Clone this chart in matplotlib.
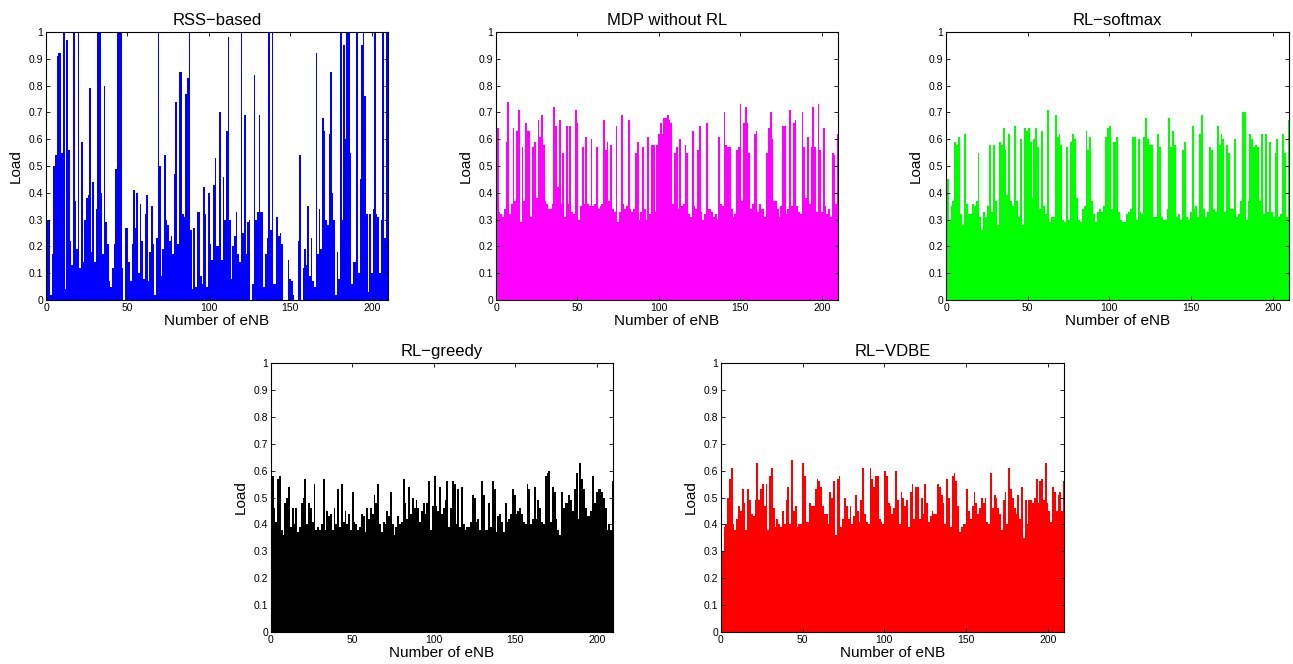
import numpy as np
import matplotlib
matplotlib.use("Agg")
import matplotlib.pyplot as plt
from matplotlib.ticker import FixedLocator, FixedFormatter

plt.rcParams["font.family"] = ["Liberation Sans", "DejaVu Sans"]

# Load per eNB (left to right)
rss_based = [
    0.30, 0.30, 0.02, 0.17, 0.50, 0.54, 0.91, 0.92, 0.92, 0.55,
    1.00, 0.04, 0.97, 0.56, 0.22, 0.13, 1.00, 0.37, 0.19, 1.00,
    0.12, 0.59, 0.14, 0.30, 0.38, 0.39, 0.79, 0.18, 0.44, 0.14,
    0.34, 1.00, 1.00, 0.40, 0.17, 0.80, 0.29, 0.21, 0.07, 0.05,
    0.12, 0.21, 0.49, 1.00, 1.00, 1.00, 0.12, 0.00, 0.27, 0.27,
    0.14, 0.07, 0.21, 0.41, 0.27, 0.40, 0.10, 0.36, 0.22, 0.08,
    0.32, 0.39, 0.07, 0.18, 0.35, 0.21, 0.02, 0.23, 1.00, 0.50,
    0.09, 0.19, 0.54, 0.30, 0.28, 0.22, 0.24, 0.17, 0.47, 0.74,
    0.21, 0.85, 0.85, 0.32, 0.31, 0.77, 0.83, 1.00, 0.26, 0.04,
    0.27, 0.05, 0.33, 0.33, 0.09, 0.06, 0.42, 0.32, 0.05, 0.40,
    0.21, 0.15, 0.43, 0.53, 0.20, 0.20, 0.70, 0.15, 0.46, 0.30,
    0.63, 0.98, 0.30, 0.08, 0.20, 0.24, 0.33, 0.17, 0.14, 1.00,
    0.25, 0.69, 0.17, 0.29, 0.30, 0.00, 0.06, 0.84, 0.30, 0.33,
    0.69, 0.33, 0.33, 0.05, 0.17, 0.23, 1.00, 0.26, 1.00, 0.06,
    0.06, 0.31, 0.24, 0.25, 0.21, 0.00, 0.00, 0.00, 0.15, 0.08,
    0.07, 0.02, 0.00, 0.00, 0.22, 0.54, 0.00, 0.12, 0.19, 0.13,
    0.35, 0.09, 0.23, 0.07, 0.05, 0.92, 0.17, 0.34, 0.19, 0.68,
    0.63, 0.30, 0.28, 0.62, 0.85, 0.40, 0.30, 0.02, 0.18, 0.08,
    1.00, 0.30, 0.95, 0.60, 1.00, 1.00, 0.55, 0.06, 0.14, 0.14,
    1.00, 0.10, 0.45, 0.95, 1.00, 0.76, 0.32, 0.03, 0.32, 0.10,
    0.34, 1.00, 0.32, 0.31, 0.10, 0.30, 1.00, 0.23, 1.00, 1.00,
]

mdp_without_rl = [
    0.64, 0.33, 0.32, 0.31, 0.34, 0.59, 0.74, 0.32, 0.36, 0.64,
    0.37, 0.63, 0.71, 0.29, 0.57, 0.37, 0.66, 0.63, 0.63, 0.31,
    0.57, 0.59, 0.38, 0.67, 0.61, 0.69, 0.58, 0.37, 0.36, 0.34,
    0.34, 0.36, 0.72, 0.65, 0.42, 0.67, 0.36, 0.55, 0.31, 0.65,
    0.36, 0.65, 0.33, 0.32, 0.71, 0.66, 0.30, 0.35, 0.57, 0.36,
    0.61, 0.36, 0.35, 0.60, 0.35, 0.36, 0.57, 0.34, 0.35, 0.36,
    0.67, 0.56, 0.59, 0.37, 0.58, 0.34, 0.33, 0.65, 0.29, 0.33,
    0.69, 0.36, 0.34, 0.35, 0.67, 0.34, 0.33, 0.34, 0.55, 0.59,
    0.30, 0.33, 0.57, 0.34, 0.30, 0.61, 0.32, 0.58, 0.58, 0.33,
    0.58, 0.62, 0.66, 0.62, 0.68, 0.68, 0.69, 0.67, 0.66, 0.36,
    0.55, 0.57, 0.34, 0.60, 0.35, 0.36, 0.58, 0.55, 0.32, 0.31,
    0.63, 0.35, 0.34, 0.56, 0.65, 0.33, 0.30, 0.32, 0.66, 0.34,
    0.34, 0.33, 0.31, 0.32, 0.30, 0.61, 0.36, 0.35, 0.70, 0.58,
    0.57, 0.57, 0.34, 0.31, 0.32, 0.56, 0.57, 0.73, 0.37, 0.66,
    0.72, 0.66, 0.55, 0.34, 0.36, 0.62, 0.63, 0.33, 0.36, 0.34,
    0.34, 0.31, 0.55, 0.64, 0.70, 0.60, 0.37, 0.37, 0.34, 0.31,
    0.35, 0.65, 0.65, 0.32, 0.34, 0.71, 0.35, 0.66, 0.67, 0.35,
    0.33, 0.32, 0.70, 0.57, 0.38, 0.61, 0.36, 0.57, 0.72, 0.57,
    0.33, 0.73, 0.56, 0.33, 0.64, 0.35, 0.32, 0.34, 0.31, 0.55,
    0.54, 0.36, 0.62,
]

rl_softmax = [
    0.45, 0.30, 0.35, 0.37, 0.59, 0.58, 0.61, 0.32, 0.28, 0.62,
    0.36, 0.32, 0.32, 0.36, 0.35, 0.37, 0.55, 0.31, 0.26, 0.33,
    0.31, 0.35, 0.58, 0.33, 0.58, 0.37, 0.28, 0.59, 0.58, 0.64,
    0.56, 0.39, 0.62, 0.37, 0.35, 0.65, 0.37, 0.31, 0.60, 0.28,
    0.64, 0.63, 0.64, 0.59, 0.38, 0.60, 0.64, 0.57, 0.34, 0.63,
    0.35, 0.32, 0.71, 0.29, 0.31, 0.31, 0.69, 0.61, 0.62, 0.58,
    0.30, 0.29, 0.57, 0.30, 0.59, 0.62, 0.60, 0.38, 0.30, 0.29,
    0.34, 0.35, 0.63, 0.56, 0.61, 0.37, 0.32, 0.29, 0.33, 0.34,
    0.33, 0.35, 0.61, 0.64, 0.65, 0.34, 0.59, 0.59, 0.61, 0.33,
    0.30, 0.29, 0.29, 0.32,
    0.33, 0.34, 0.61, 0.61, 0.30, 0.60, 0.33, 0.32, 0.61, 0.68,
    0.60, 0.58, 0.58, 0.31, 0.31, 0.62, 0.57, 0.31, 0.30, 0.30,
    0.34, 0.68, 0.57, 0.63, 0.58, 0.31, 0.32, 0.30, 0.56, 0.59,
    0.31, 0.30, 0.33, 0.65, 0.34, 0.35, 0.31, 0.62, 0.69, 0.34,
    0.31, 0.33, 0.57, 0.56, 0.34, 0.33, 0.65, 0.58, 0.62, 0.60,
    0.33, 0.58, 0.55, 0.34, 0.34, 0.60, 0.31, 0.32, 0.37, 0.70,
    0.70, 0.30, 0.37, 0.62, 0.60, 0.57, 0.58, 0.57, 0.37, 0.62,
    0.32, 0.62, 0.33, 0.59, 0.33, 0.31, 0.55, 0.60, 0.31, 0.32,
    0.62, 0.55, 0.31, 0.67,
]

rl_greedy = [
    0.58, 0.46, 0.41, 0.57, 0.58, 0.38, 0.36, 0.48, 0.50, 0.54,
    0.39, 0.46, 0.40, 0.46, 0.37, 0.39, 0.48, 0.50, 0.57, 0.40,
    0.48, 0.46, 0.41, 0.55, 0.38, 0.39, 0.38, 0.40, 0.57, 0.38,
    0.45, 0.43, 0.44, 0.38, 0.46, 0.40, 0.53, 0.39, 0.55, 0.41,
    0.45, 0.40, 0.44, 0.38, 0.52, 0.41, 0.40, 0.38, 0.39, 0.44,
    0.43, 0.37, 0.46, 0.42, 0.46, 0.44, 0.51, 0.48, 0.55, 0.40,
    0.37, 0.41, 0.40, 0.45, 0.43, 0.52, 0.40, 0.36, 0.39, 0.43,
    0.40, 0.41, 0.57, 0.48, 0.42, 0.54, 0.44, 0.50, 0.46, 0.49,
    0.46, 0.41, 0.45, 0.48, 0.44, 0.48, 0.56, 0.38, 0.47, 0.58,
    0.47, 0.45, 0.54, 0.44, 0.46, 0.49, 0.56, 0.39,
    0.46, 0.56, 0.55, 0.40, 0.53, 0.39, 0.54, 0.40, 0.38, 0.39,
    0.39, 0.41, 0.51, 0.50, 0.41, 0.42, 0.38, 0.56, 0.51, 0.38,
    0.38, 0.48, 0.39, 0.56, 0.53, 0.37, 0.43, 0.44, 0.41, 0.37,
    0.48, 0.41, 0.42, 0.44, 0.53, 0.51, 0.44, 0.45, 0.46, 0.44,
    0.41, 0.40, 0.55, 0.53, 0.40, 0.42, 0.54, 0.42, 0.49, 0.46,
    0.41, 0.40, 0.58, 0.59, 0.60, 0.41, 0.54, 0.52, 0.42, 0.38,
    0.36, 0.52, 0.46, 0.48, 0.48, 0.51, 0.49, 0.45, 0.53, 0.59,
    0.42, 0.63, 0.57, 0.53, 0.46, 0.43, 0.43, 0.45, 0.58, 0.48,
    0.52, 0.53, 0.53, 0.52, 0.50, 0.46, 0.38, 0.40, 0.38, 0.56,
]

rl_vdbe = [
    0.30, 0.39, 0.40, 0.50, 0.57, 0.61, 0.40, 0.38, 0.42, 0.47,
    0.45, 0.53, 0.48, 0.38, 0.53, 0.49, 0.44, 0.43, 0.49, 0.63,
    0.49, 0.53, 0.55, 0.47, 0.55, 0.38, 0.58, 0.61, 0.46, 0.39,
    0.42, 0.40, 0.39, 0.45, 0.40, 0.49, 0.54, 0.40, 0.64, 0.45,
    0.47, 0.39, 0.40, 0.40, 0.63, 0.58, 0.41, 0.41, 0.48, 0.47,
    0.47, 0.53, 0.57, 0.56, 0.54, 0.47, 0.44, 0.44, 0.40, 0.52,
    0.50, 0.56, 0.36, 0.57, 0.58, 0.39, 0.42, 0.50, 0.47, 0.42,
    0.47, 0.40, 0.43, 0.51, 0.45, 0.41, 0.49, 0.61, 0.44, 0.41,
    0.40, 0.61, 0.57, 0.54, 0.58, 0.58, 0.42, 0.41, 0.40, 0.60,
    0.58, 0.48, 0.47, 0.44, 0.46, 0.60, 0.49, 0.40, 0.52, 0.50,
    0.47,
    0.49, 0.39, 0.52, 0.55, 0.42, 0.54, 0.54, 0.42, 0.50, 0.44,
    0.55, 0.48, 0.41, 0.43, 0.45, 0.44, 0.44, 0.55, 0.54, 0.51,
    0.48, 0.40, 0.57, 0.50, 0.39, 0.58, 0.59, 0.56, 0.47, 0.37,
    0.39, 0.40, 0.40, 0.53, 0.45, 0.42, 0.47, 0.52, 0.48, 0.44,
    0.46, 0.50, 0.48, 0.50, 0.41, 0.40, 0.59, 0.46, 0.51, 0.50,
    0.46, 0.44, 0.38, 0.49, 0.52, 0.40, 0.61, 0.53, 0.50, 0.46,
    0.44, 0.51, 0.42, 0.54, 0.35, 0.49, 0.40, 0.49, 0.49, 0.48,
    0.50, 0.57, 0.48, 0.56, 0.57, 0.49, 0.63, 0.48, 0.45, 0.41,
    0.54, 0.52, 0.45, 0.51, 0.52, 0.45, 0.56,
]

titles = ["RSS\u2212based", "MDP without RL", "RL\u2212softmax", "RL\u2212greedy", "RL\u2212VDBE"]
series = [rss_based, mdp_without_rl, rl_softmax, rl_greedy, rl_vdbe]
colors = ["#0000ff", "#ff00ff", "#00ff00", "#000000", "#ff0000"]

n_enb = 210
y_ticks = [0, 0.1, 0.2, 0.3, 0.4, 0.5, 0.6, 0.7, 0.8, 0.9, 1]
y_labels = ["0", "0.1", "0.2", "0.3", "0.4", "0.5", "0.6", "0.7", "0.8", "0.9", "1"]
x_ticks = [0, 50, 100, 150, 200]

W, H = 1293, 664
fig = plt.figure(figsize=(W / 100, H / 100), dpi=100)

# axes boxes in pixels: left, top, right, bottom
boxes = [
    (46, 32, 388, 300),
    (496, 32, 838, 300),
    (946, 32, 1289, 300),
    (271, 363, 613, 632),
    (721, 363, 1064, 632),
]

for (l, t, r, b), vals, title, c in zip(boxes, series, titles, colors):
    ax = fig.add_axes([l / W, 1 - b / H, (r - l) / W, (b - t) / H])
    v = np.asarray(vals, dtype=float)
    # spread the readings over the eNB index range
    x = np.linspace(1, n_enb, len(v))
    step = x[1] - x[0]
    ax.bar(x, v, width=step, color=c, edgecolor="none", linewidth=0,
           antialiased=False)

    ax.set_xlim(0, n_enb)
    ax.set_ylim(0, 1)
    ax.xaxis.set_major_locator(FixedLocator(x_ticks))
    ax.yaxis.set_major_locator(FixedLocator(y_ticks))
    ax.yaxis.set_major_formatter(FixedFormatter(y_labels))
    ax.tick_params(direction="in", top=True, right=True, length=3, width=0.6,
                   labelsize=7.5, pad=2)
    for s in ax.spines.values():
        s.set_linewidth(0.8)
        s.set_zorder(5)
    ax.set_title(title, fontsize=12, pad=5)
    ax.set_xlabel("Number of eNB", fontsize=11, labelpad=1)
    ax.set_ylabel("Load", fontsize=11, labelpad=4)

fig.savefig("out.png", dpi=100)
